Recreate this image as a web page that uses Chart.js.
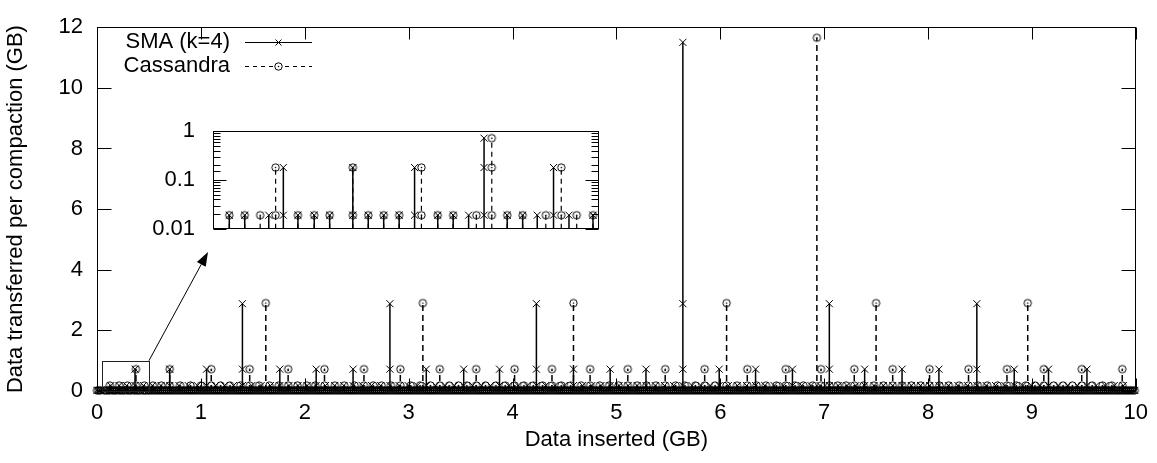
<!DOCTYPE html>
<html>
<head>
<meta charset="utf-8">
<script src="https://cdn.jsdelivr.net/npm/chart.js@4/dist/chart.umd.min.js"></script>
<style>
  html, body { margin: 0; padding: 0; background: #fff; }
  #wrap { position: relative; width: 1157px; height: 463px; overflow: hidden; }
  canvas { position: absolute; display: block; }
  #main { left: 0; top: 0; }
  #inset { left: 150px; top: 100px; }
</style>
</head>
<body>
<div id="wrap">
  <canvas id="main" width="1157" height="463"></canvas>
  <canvas id="inset" width="460" height="160"></canvas>
</div>
<script>
// 每层压缩的数据量 (GB)
const smaLevels = [0.019, 0.18, 0.72, 2.88, 11.5];
const casLevels = [0.019, 0.18, 0.72, 2.9, 11.65];

// 最小一层 (flush) 的位置, 前 0.5 GB 从小图读出
const smaFlushEarly = [0.0, 0.016, 0.033, 0.069, 0.087, 0.115, 0.132, 0.149, 0.168, 0.186, 0.213, 0.231, 0.249, 0.267, 0.285, 0.312, 0.33, 0.348, 0.366, 0.393, 0.411, 0.428, 0.447, 0.465, 0.493];
const casFlushEarly = [0.0, 0.016, 0.033, 0.069, 0.087, 0.105, 0.123, 0.149, 0.168, 0.186, 0.213, 0.231, 0.249, 0.267, 0.293, 0.312, 0.33, 0.357, 0.375, 0.393, 0.411, 0.438, 0.456, 0.474, 0.493];
const flushLater = [
  0.51,0.53,0.55,0.57,0.59,0.61,0.63,0.65,0.67,0.69,0.71,0.73,0.75,0.77,0.79,0.81,0.83,0.85,0.87,0.89,0.91,0.93,0.95,0.97,0.99,
  1.01,1.03,1.05,1.07,1.09,1.11,1.13,1.15,1.17,1.19,1.21,1.23,1.25,1.27,1.29,1.31,1.33,1.35,1.37,1.39,1.41,1.43,1.45,1.47,1.49,
  1.51,1.53,1.55,1.57,1.59,1.61,1.63,1.65,1.67,1.69,1.71,1.73,1.75,1.77,1.79,1.81,1.83,1.85,1.87,1.89,1.91,1.93,1.95,1.97,1.99,
  2.01,2.03,2.05,2.07,2.09,2.11,2.13,2.15,2.17,2.19,2.21,2.23,2.25,2.27,2.29,2.31,2.33,2.35,2.37,2.39,2.41,2.43,2.45,2.47,2.49,
  2.51,2.53,2.55,2.57,2.59,2.61,2.63,2.65,2.67,2.69,2.71,2.73,2.75,2.77,2.79,2.81,2.83,2.85,2.87,2.89,2.91,2.93,2.95,2.97,2.99,
  3.01,3.03,3.05,3.07,3.09,3.11,3.13,3.15,3.17,3.19,3.21,3.23,3.25,3.27,3.29,3.31,3.33,3.35,3.37,3.39,3.41,3.43,3.45,3.47,3.49,
  3.51,3.53,3.55,3.57,3.59,3.61,3.63,3.65,3.67,3.69,3.71,3.73,3.75,3.77,3.79,3.81,3.83,3.85,3.87,3.89,3.91,3.93,3.95,3.97,3.99,
  4.01,4.03,4.05,4.07,4.09,4.11,4.13,4.15,4.17,4.19,4.21,4.23,4.25,4.27,4.29,4.31,4.33,4.35,4.37,4.39,4.41,4.43,4.45,4.47,4.49,
  4.51,4.53,4.55,4.57,4.59,4.61,4.63,4.65,4.67,4.69,4.71,4.73,4.75,4.77,4.79,4.81,4.83,4.85,4.87,4.89,4.91,4.93,4.95,4.97,4.99,
  5.01,5.03,5.05,5.07,5.09,5.11,5.13,5.15,5.17,5.19,5.21,5.23,5.25,5.27,5.29,5.31,5.33,5.35,5.37,5.39,5.41,5.43,5.45,5.47,5.49,
  5.51,5.53,5.55,5.57,5.59,5.61,5.63,5.65,5.67,5.69,5.71,5.73,5.75,5.77,5.79,5.81,5.83,5.85,5.87,5.89,5.91,5.93,5.95,5.97,5.99,
  6.01,6.03,6.05,6.07,6.09,6.11,6.13,6.15,6.17,6.19,6.21,6.23,6.25,6.27,6.29,6.31,6.33,6.35,6.37,6.39,6.41,6.43,6.45,6.47,6.49,
  6.51,6.53,6.55,6.57,6.59,6.61,6.63,6.65,6.67,6.69,6.71,6.73,6.75,6.77,6.79,6.81,6.83,6.85,6.87,6.89,6.91,6.93,6.95,6.97,6.99,
  7.01,7.03,7.05,7.07,7.09,7.11,7.13,7.15,7.17,7.19,7.21,7.23,7.25,7.27,7.29,7.31,7.33,7.35,7.37,7.39,7.41,7.43,7.45,7.47,7.49,
  7.51,7.53,7.55,7.57,7.59,7.61,7.63,7.65,7.67,7.69,7.71,7.73,7.75,7.77,7.79,7.81,7.83,7.85,7.87,7.89,7.91,7.93,7.95,7.97,7.99,
  8.01,8.03,8.05,8.07,8.09,8.11,8.13,8.15,8.17,8.19,8.21,8.23,8.25,8.27,8.29,8.31,8.33,8.35,8.37,8.39,8.41,8.43,8.45,8.47,8.49,
  8.51,8.53,8.55,8.57,8.59,8.61,8.63,8.65,8.67,8.69,8.71,8.73,8.75,8.77,8.79,8.81,8.83,8.85,8.87,8.89,8.91,8.93,8.95,8.97,8.99,
  9.01,9.03,9.05,9.07,9.09,9.11,9.13,9.15,9.17,9.19,9.21,9.23,9.25,9.27,9.29,9.31,9.33,9.35,9.37,9.39,9.41,9.43,9.45,9.47,9.49,
  9.51,9.53,9.55,9.57,9.59,9.61,9.63,9.65,9.67,9.69,9.71,9.73,9.75,9.77,9.79,9.81,9.83,9.85,9.87,9.89,9.91,9.93,9.95,9.97,9.99
];

// 第二层 (约 0.18 GB)
const smaL1 = [0.132,0.213,0.285,0.366,0.447,0.533,0.616,0.70,0.789,0.878,0.966,1.055,1.141,1.228,1.314,1.40,1.49,1.58,1.67,1.76,1.848,1.935,2.023,2.11,2.199,2.288,2.376,2.465,2.554,2.643,2.731,2.82,2.908,2.995,3.083,3.17,3.26,3.35,3.44,3.53,3.616,3.703,3.789,3.875,3.964,4.053,4.141,4.23,4.319,4.409,4.498,4.587,4.675,4.764,4.852,4.94,5.026,5.113,5.199,5.285,5.374,5.463,5.551,5.64,5.728,5.815,5.903,5.99,6.078,6.165,6.253,6.34,6.429,6.518,6.606,6.695,6.784,6.873,6.961,7.05,7.135,7.22,7.305,7.39,7.48,7.57,7.66,7.75,7.839,7.928,8.016,8.105,8.196,8.288,8.379,8.47,8.56,8.65,8.74,8.83,8.913,8.995,9.078,9.16,9.253,9.345,9.438,9.53,9.618,9.705,9.793,9.88];
const casL1 = [0.123,0.213,0.293,0.375,0.456,0.538,0.619,0.70,0.80,0.90,1.00,1.10,1.19,1.28,1.38,1.47,1.56,1.66,1.75,1.84,1.93,2.02,2.10,2.19,2.29,2.38,2.48,2.57,2.66,2.74,2.83,2.92,3.02,3.11,3.21,3.30,3.39,3.48,3.56,3.65,3.74,3.84,3.93,4.02,4.11,4.20,4.29,4.38,4.47,4.56,4.66,4.747,4.84,4.93,5.02,5.11,5.20,5.29,5.38,5.47,5.57,5.66,5.76,5.85,5.95,6.06,6.16,6.26,6.35,6.44,6.54,6.63,6.72,6.80,6.89,6.97,7.05,7.13,7.21,7.29,7.38,7.48,7.57,7.66,7.75,7.84,7.93,8.015,8.11,8.20,8.30,8.39,8.48,8.57,8.67,8.76,8.85,8.94,9.03,9.115,9.21,9.30,9.39,9.48,9.58,9.68,9.77,9.87];

// 第三层 (约 0.72 GB)
const smaL2 = [0.366,0.70,1.055,1.40,1.76,2.11,2.465,2.82,3.17,3.53,3.875,4.23,4.587,4.94,5.285,5.64,5.99,6.34,6.695,7.05,7.39,7.75,8.105,8.47,8.83,9.16,9.53];
const casL2 = [0.375,0.70,1.10,1.47,1.84,2.19,2.57,2.92,3.30,3.65,4.02,4.38,4.747,5.11,5.47,5.85,6.26,6.63,6.97,7.29,7.66,8.015,8.39,8.76,9.115,9.48,9.87];

// 第四、五层
const smaL3 = [1.40, 2.82, 4.23, 5.64, 7.05, 8.47];
const casL3 = [1.625, 3.137, 4.587, 6.061, 7.50, 8.96];
const smaL4 = [5.64];
const casL4 = [6.93];

const xTicks = [0, 1, 2, 3, 4, 5, 6, 7, 8, 9, 10];
const yTicks = [0, 2, 4, 6, 8, 10, 12];
const zoomBox = [0.05, 0.5, 0, 1];   // 主图中的放大框 (x0, x1, y0, y1)

const FONT = '"Liberation Sans", Arial, Helvetica, sans-serif';
const INSET = { left: 213, top: 114, right: 599, bottom: 246 };

// 带中心点的圆形标记 (gnuplot 风格)
function makeDotCircle() {
  const c = document.createElement('canvas');
  c.width = 11; c.height = 11;
  const g = c.getContext('2d');
  g.strokeStyle = '#000';
  g.lineWidth = 1;
  g.beginPath(); g.arc(5.5, 5.5, 3.7, 0, Math.PI * 2); g.stroke();
  g.fillStyle = '#000';
  g.beginPath(); g.arc(5.5, 5.5, 0.8, 0, Math.PI * 2); g.fill();
  return c;
}
const dotCircle = makeDotCircle();

// 把每次压缩画成从底部到数值的竖线
function impulses(lists, levels, base, lo, hi) {
  const pts = [];
  lists.forEach((xs, i) => {
    xs.forEach(x => {
      if (x < lo || x > hi) return;
      pts.push({x: x, y: base}, {x: x, y: levels[i], top: true}, {x: x, y: null});
    });
  });
  return pts;
}

const smaLists = [smaFlushEarly.concat(flushLater), smaL1, smaL2, smaL3, smaL4];
const casLists = [casFlushEarly.concat(flushLater), casL1, casL2, casL3, casL4];

function markerRadius(r) {
  return c => (c.raw && c.raw.top ? r : 0);
}

function drawCross(ctx, x, y, s) {
  ctx.beginPath();
  ctx.moveTo(x - s, y - s); ctx.lineTo(x + s, y + s);
  ctx.moveTo(x - s, y + s); ctx.lineTo(x + s, y - s);
  ctx.stroke();
}

// 边框和向内的刻度
const mainFrame = {
  id: 'mainFrame',
  afterDraw(chart) {
    const {ctx, chartArea: a, scales: {x, y}} = chart;
    ctx.save();
    ctx.strokeStyle = '#000';
    ctx.lineWidth = 1;
    const L = Math.round(a.left) + 0.5, R = Math.round(a.right) - 0.5;
    const T = Math.round(a.top) + 0.5, B = Math.round(a.bottom) - 0.5;
    ctx.strokeRect(L, T, R - L, B - T);
    ctx.beginPath();
    xTicks.forEach(v => {
      const px = Math.round(x.getPixelForValue(v)) + 0.5;
      ctx.moveTo(px, B); ctx.lineTo(px, B - 12);
      ctx.moveTo(px, T); ctx.lineTo(px, T + 12);
    });
    yTicks.forEach(v => {
      const py = Math.round(y.getPixelForValue(v)) + 0.5;
      ctx.moveTo(L, py); ctx.lineTo(L + 14, py);
      ctx.moveTo(R, py); ctx.lineTo(R - 14, py);
    });
    ctx.stroke();

    // 放大框和箭头
    const bx0 = x.getPixelForValue(zoomBox[0]), bx1 = x.getPixelForValue(zoomBox[1]);
    const by0 = y.getPixelForValue(zoomBox[2]), by1 = y.getPixelForValue(zoomBox[3]);
    ctx.strokeStyle = '#222';
    ctx.strokeRect(Math.round(bx0) + 0.5, Math.round(by1) + 0.5, Math.round(bx1 - bx0), Math.round(by0 - by1));
    const tx = INSET.left - 5, ty = INSET.bottom + 6;
    const ang = Math.atan2(ty - by1, tx - bx1);
    const hl = 14, hw = 5;
    const baseX = tx - hl * Math.cos(ang), baseY = ty - hl * Math.sin(ang);
    ctx.strokeStyle = '#000';
    ctx.beginPath(); ctx.moveTo(bx1, by1); ctx.lineTo(baseX, baseY); ctx.stroke();
    ctx.fillStyle = '#000';
    ctx.beginPath();
    ctx.moveTo(tx, ty);
    ctx.lineTo(baseX + hw * Math.sin(ang), baseY - hw * Math.cos(ang));
    ctx.lineTo(baseX - hw * Math.sin(ang), baseY + hw * Math.cos(ang));
    ctx.closePath(); ctx.fill();

    // 图例 (文字在左, 线样在右)
    ctx.font = '22px ' + FONT;
    ctx.textAlign = 'right';
    ctx.textBaseline = 'middle';
    ctx.fillText('SMA (k=4)', 230, 42);
    ctx.fillText('Cassandra', 230, 66);
    ctx.lineWidth = 1;
    ctx.beginPath(); ctx.moveTo(245, 42.5); ctx.lineTo(312, 42.5); ctx.stroke();
    drawCross(ctx, 278.5, 42.5, 3);
    ctx.setLineDash([4, 4]);
    ctx.beginPath(); ctx.moveTo(245, 66.5); ctx.lineTo(312, 66.5); ctx.stroke();
    ctx.setLineDash([]);
    ctx.fillStyle = '#fff';
    ctx.fillRect(273, 61, 11, 11);
    ctx.drawImage(dotCircle, 273, 61);
    ctx.restore();
  }
};

const insetFrame = {
  id: 'insetFrame',
  beforeDatasetsDraw(chart) {
    const {ctx, chartArea: a} = chart;
    ctx.save();
    ctx.fillStyle = '#fff';
    ctx.fillRect(a.left, a.top, a.right - a.left, a.bottom - a.top);
    ctx.restore();
  },
  afterDraw(chart) {
    const {ctx, chartArea: a, scales: {y}} = chart;
    ctx.save();
    ctx.strokeStyle = '#000';
    ctx.lineWidth = 1;
    const L = Math.round(a.left) + 0.5, R = Math.round(a.right) - 0.5;
    const T = Math.round(a.top) + 0.5, B = Math.round(a.bottom) - 0.5;
    ctx.strokeRect(L, T, R - L, B - T);
    ctx.beginPath();
    y.ticks.forEach(t => {
      const lg = Math.log10(t.value);
      const major = Math.abs(lg - Math.round(lg)) < 1e-6;
      const len = major ? 13 : 7;
      const py = Math.round(y.getPixelForValue(t.value)) + 0.5;
      ctx.moveTo(L, py); ctx.lineTo(L + len, py);
      ctx.moveTo(R, py); ctx.lineTo(R - len, py);
    });
    ctx.stroke();
    ctx.restore();
  }
};

const tickFont = {family: FONT, size: 22};

new Chart(document.getElementById('main'), {
  type: 'line',
  data: {
    datasets: [
      {
        label: 'Cassandra',
        data: impulses(casLists, casLevels, 0, -1, 11),
        borderColor: '#000',
        borderWidth: 1.5,
        borderDash: [6, 4],
        pointStyle: dotCircle,
        pointRadius: markerRadius(4),
        clip: false
      },
      {
        label: 'SMA (k=4)',
        data: impulses(smaLists, smaLevels, 0, -1, 11),
        borderColor: '#000',
        borderWidth: 1.5,
        pointStyle: 'crossRot',
        pointRadius: markerRadius(5),
        pointBorderWidth: 1,
        pointBorderColor: '#000',
        pointBackgroundColor: 'rgba(0,0,0,0)',
        clip: false
      }
    ]
  },
  options: {
    responsive: false,
    animation: false,
    events: [],
    layout: {padding: {top: 18, right: 20, left: 0, bottom: 0}},
    plugins: {legend: {display: false}, tooltip: {enabled: false}},
    scales: {
      x: {
        type: 'linear', min: 0, max: 10,
        afterFit(s) { s.height = 72; },
        grid: {display: false, drawTicks: false},
        border: {display: false},
        ticks: {stepSize: 1, color: '#000', font: tickFont, padding: 9, maxRotation: 0},
        title: {display: true, text: 'Data inserted (GB)', color: '#000', font: tickFont, padding: {top: 0, bottom: 10}}
      },
      y: {
        min: 0, max: 12,
        afterFit(s) { s.width = 97; },
        grid: {display: false, drawTicks: false},
        border: {display: false},
        ticks: {stepSize: 2, color: '#000', font: tickFont, padding: 14},
        title: {display: true, text: 'Data transferred per compaction (GB)', color: '#000', font: tickFont, padding: {top: 3, bottom: 0}}
      }
    }
  },
  plugins: [mainFrame]
});

// 小图: 前 0.5 GB, 对数坐标
new Chart(document.getElementById('inset'), {
  type: 'line',
  data: {
    datasets: [
      {
        label: 'Cassandra',
        data: impulses(casLists, casLevels, 0.01, 0.05, 0.5),
        borderColor: '#000',
        borderWidth: 1.2,
        borderDash: [5, 4],
        pointStyle: dotCircle,
        pointRadius: markerRadius(4)
      },
      {
        label: 'SMA (k=4)',
        data: impulses(smaLists, smaLevels, 0.01, 0.05, 0.5),
        borderColor: '#000',
        borderWidth: 1.5,
        pointStyle: 'crossRot',
        pointRadius: markerRadius(5),
        pointBorderWidth: 1,
        pointBorderColor: '#000',
        pointBackgroundColor: 'rgba(0,0,0,0)'
      }
    ]
  },
  options: {
    responsive: false,
    animation: false,
    events: [],
    layout: {padding: {top: 14, right: 11, left: 0, bottom: 14}},
    plugins: {legend: {display: false}, tooltip: {enabled: false}},
    scales: {
      x: {type: 'linear', min: 0.05, max: 0.5, display: false},
      y: {
        type: 'logarithmic', min: 0.01, max: 1,
        afterFit(s) { s.width = 63; },
        grid: {display: false, drawTicks: false},
        border: {display: false},
        ticks: {
          color: '#000', font: tickFont, padding: 18, autoSkip: false,
          callback(v) {
            const lg = Math.log10(v);
            return Math.abs(lg - Math.round(lg)) < 1e-6 ? String(v) : '';
          }
        }
      }
    }
  },
  plugins: [insetFrame]
});
</script>
</body>
</html>
